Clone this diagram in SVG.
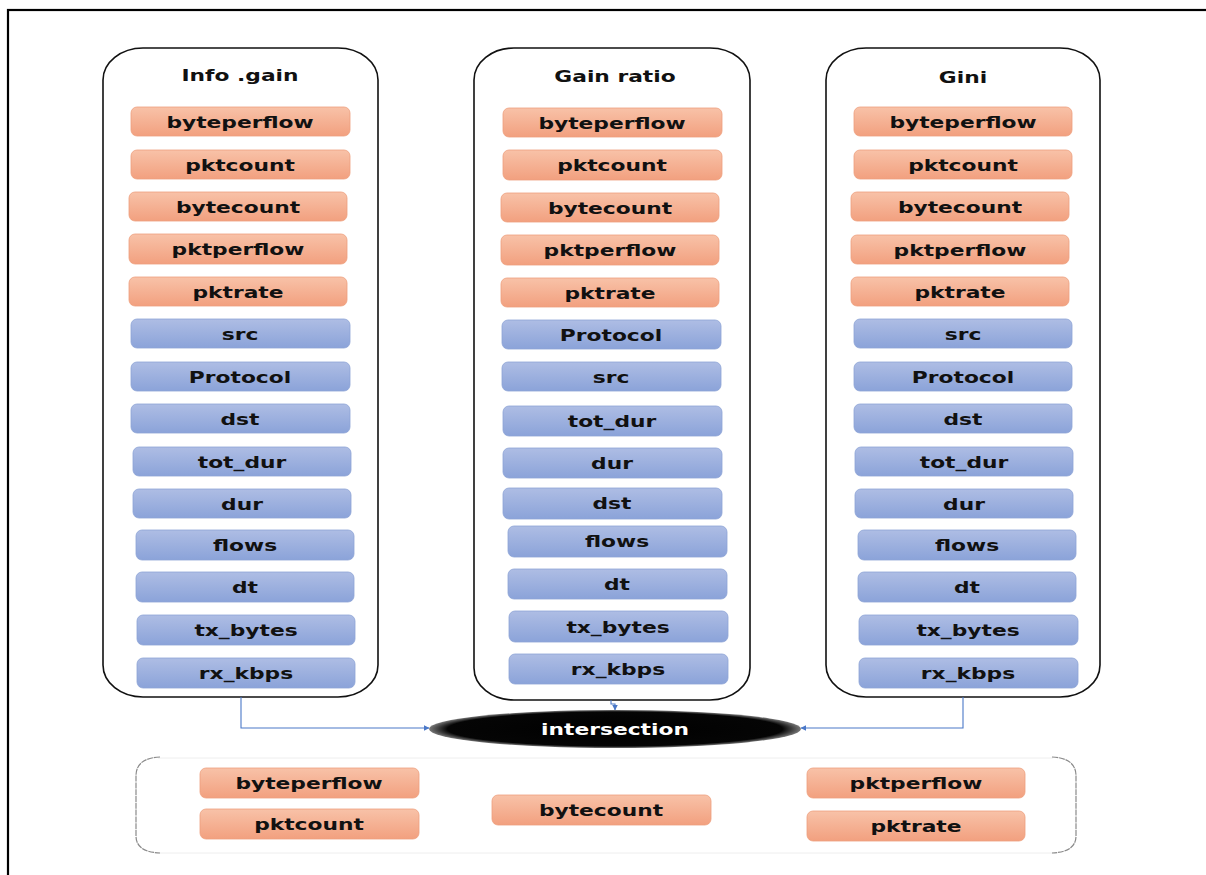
<svg xmlns="http://www.w3.org/2000/svg" width="1206" height="875" viewBox="0 0 1206 875">
<style>
.col{fill:#fff;stroke:#111;stroke-width:1.6}
.o{fill:url(#og);stroke:#eea07e;stroke-width:0.8}
.b{fill:url(#bg);stroke:#8da3d6;stroke-width:0.8}
.t{font-family:"DejaVu Sans",Verdana,sans-serif;font-weight:bold;font-size:16.5px;fill:#111;text-anchor:middle}
.w{fill:#fff}
.con{fill:none;stroke:#4a78c8;stroke-width:1.1}
</style>
<defs>
<linearGradient id="og" x1="0" y1="0" x2="0" y2="1"><stop offset="0" stop-color="#f8c2a8"/><stop offset="1" stop-color="#f2a07f"/></linearGradient>
<linearGradient id="bg" x1="0" y1="0" x2="0" y2="1"><stop offset="0" stop-color="#aebde4"/><stop offset="1" stop-color="#8ba3d9"/></linearGradient>
<radialGradient id="eg" cx="0.5" cy="0.5" r="0.5"><stop offset="0" stop-color="#000"/><stop offset="0.9" stop-color="#050505"/><stop offset="1" stop-color="#777"/></radialGradient>
<marker id="ar" viewBox="0 0 6 6" refX="5.5" refY="3" markerWidth="5" markerHeight="5" orient="auto"><path d="M0,0 L6,3 L0,6 z" fill="#4a78c8"/></marker>
</defs>
<rect x="0" y="0" width="1206" height="875" fill="#fff"/>
<rect x="8" y="10" width="1230" height="900" fill="none" stroke="#000" stroke-width="2.2"/>

<g id="col-info-gain">
<rect class="col" x="103" y="48" width="275" height="649" rx="40" ry="32"/>
<text class="t" transform="translate(240,81) scale(1.32,1)">Info .gain</text>
<rect class="o" x="131" y="107" width="219" height="29" rx="6"/><text class="t" transform="translate(240,127.5) scale(1.32,1)">byteperflow</text>
<rect class="o" x="131" y="150" width="219" height="29" rx="6"/><text class="t" transform="translate(240,170.5) scale(1.32,1)">pktcount</text>
<rect class="o" x="129" y="192" width="218" height="29" rx="6"/><text class="t" transform="translate(238,212.5) scale(1.32,1)">bytecount</text>
<rect class="o" x="129" y="234" width="218" height="30" rx="6"/><text class="t" transform="translate(238,255) scale(1.32,1)">pktperflow</text>
<rect class="o" x="129" y="277" width="218" height="29" rx="6"/><text class="t" transform="translate(238,297.5) scale(1.32,1)">pktrate</text>
<rect class="b" x="131" y="319" width="219" height="29" rx="6"/><text class="t" transform="translate(240,339.5) scale(1.32,1)">src</text>
<rect class="b" x="131" y="362" width="219" height="29" rx="6"/><text class="t" transform="translate(240,382.5) scale(1.32,1)">Protocol</text>
<rect class="b" x="131" y="404" width="219" height="29" rx="6"/><text class="t" transform="translate(240,424.5) scale(1.32,1)">dst</text>
<rect class="b" x="133" y="447" width="218" height="29" rx="6"/><text class="t" transform="translate(242,467.5) scale(1.32,1)">tot_dur</text>
<rect class="b" x="133" y="489" width="218" height="29" rx="6"/><text class="t" transform="translate(242,509.5) scale(1.32,1)">dur</text>
<rect class="b" x="136" y="530" width="218" height="30" rx="6"/><text class="t" transform="translate(245,551) scale(1.32,1)">flows</text>
<rect class="b" x="136" y="572" width="218" height="30" rx="6"/><text class="t" transform="translate(245,593) scale(1.32,1)">dt</text>
<rect class="b" x="137" y="615" width="218" height="30" rx="6"/><text class="t" transform="translate(246,636) scale(1.32,1)">tx_bytes</text>
<rect class="b" x="137" y="658" width="218" height="30" rx="6"/><text class="t" transform="translate(246,679) scale(1.32,1)">rx_kbps</text>
</g>

<g id="col-gain-ratio">
<rect class="col" x="474" y="48" width="276" height="652" rx="40" ry="32"/>
<text class="t" transform="translate(615,82) scale(1.32,1)">Gain ratio</text>
<rect class="o" x="503" y="108" width="219" height="29" rx="6"/><text class="t" transform="translate(612,128.5) scale(1.32,1)">byteperflow</text>
<rect class="o" x="503" y="150" width="219" height="30" rx="6"/><text class="t" transform="translate(612,171) scale(1.32,1)">pktcount</text>
<rect class="o" x="501" y="193" width="218" height="29" rx="6"/><text class="t" transform="translate(610,213.5) scale(1.32,1)">bytecount</text>
<rect class="o" x="501" y="235" width="218" height="30" rx="6"/><text class="t" transform="translate(610,256) scale(1.32,1)">pktperflow</text>
<rect class="o" x="501" y="278" width="218" height="29" rx="6"/><text class="t" transform="translate(610,298.5) scale(1.32,1)">pktrate</text>
<rect class="b" x="502" y="320" width="219" height="29" rx="6"/><text class="t" transform="translate(611,340.5) scale(1.32,1)">Protocol</text>
<rect class="b" x="502" y="362" width="219" height="29" rx="6"/><text class="t" transform="translate(611,382.5) scale(1.32,1)">src</text>
<rect class="b" x="503" y="406" width="219" height="30" rx="6"/><text class="t" transform="translate(612,427) scale(1.32,1)">tot_dur</text>
<rect class="b" x="503" y="448" width="219" height="30" rx="6"/><text class="t" transform="translate(612,469) scale(1.32,1)">dur</text>
<rect class="b" x="503" y="488" width="219" height="31" rx="6"/><text class="t" transform="translate(612,509) scale(1.32,1)">dst</text>
<rect class="b" x="508" y="526" width="219" height="31" rx="6"/><text class="t" transform="translate(617,547) scale(1.32,1)">flows</text>
<rect class="b" x="508" y="569" width="219" height="30" rx="6"/><text class="t" transform="translate(617,590) scale(1.32,1)">dt</text>
<rect class="b" x="509" y="611" width="219" height="31" rx="6"/><text class="t" transform="translate(618,632.5) scale(1.32,1)">tx_bytes</text>
<rect class="b" x="509" y="654" width="219" height="30" rx="6"/><text class="t" transform="translate(618,675) scale(1.32,1)">rx_kbps</text>
</g>

<g id="col-gini">
<rect class="col" x="826" y="48" width="274" height="649" rx="40" ry="32"/>
<text class="t" transform="translate(963,83) scale(1.32,1)">Gini</text>
<rect class="o" x="854" y="107" width="218" height="29" rx="6"/><text class="t" transform="translate(963,127.5) scale(1.32,1)">byteperflow</text>
<rect class="o" x="854" y="150" width="218" height="29" rx="6"/><text class="t" transform="translate(963,170.5) scale(1.32,1)">pktcount</text>
<rect class="o" x="851" y="192" width="218" height="29" rx="6"/><text class="t" transform="translate(960,212.5) scale(1.32,1)">bytecount</text>
<rect class="o" x="851" y="235" width="218" height="29" rx="6"/><text class="t" transform="translate(960,255.5) scale(1.32,1)">pktperflow</text>
<rect class="o" x="851" y="277" width="218" height="29" rx="6"/><text class="t" transform="translate(960,297.5) scale(1.32,1)">pktrate</text>
<rect class="b" x="854" y="319" width="218" height="29" rx="6"/><text class="t" transform="translate(963,339.5) scale(1.32,1)">src</text>
<rect class="b" x="854" y="362" width="218" height="29" rx="6"/><text class="t" transform="translate(963,382.5) scale(1.32,1)">Protocol</text>
<rect class="b" x="854" y="404" width="218" height="29" rx="6"/><text class="t" transform="translate(963,424.5) scale(1.32,1)">dst</text>
<rect class="b" x="855" y="447" width="218" height="29" rx="6"/><text class="t" transform="translate(964,467.5) scale(1.32,1)">tot_dur</text>
<rect class="b" x="855" y="489" width="218" height="29" rx="6"/><text class="t" transform="translate(964,509.5) scale(1.32,1)">dur</text>
<rect class="b" x="858" y="530" width="218" height="30" rx="6"/><text class="t" transform="translate(967,551) scale(1.32,1)">flows</text>
<rect class="b" x="858" y="572" width="218" height="30" rx="6"/><text class="t" transform="translate(967,593) scale(1.32,1)">dt</text>
<rect class="b" x="859" y="615" width="219" height="30" rx="6"/><text class="t" transform="translate(968,636) scale(1.32,1)">tx_bytes</text>
<rect class="b" x="859" y="658" width="219" height="30" rx="6"/><text class="t" transform="translate(968,679) scale(1.32,1)">rx_kbps</text>
</g>

<g id="connectors">
<path class="con" d="M241,697 L241,728 L429,728" marker-end="url(#ar)"/>
<path class="con" d="M963,697 L963,728 L801,728" marker-end="url(#ar)"/>
<path class="con" d="M611,700 L611,704 L615,704 L615,710" marker-end="url(#ar)"/>
</g>

<g id="intersection">
<ellipse cx="615" cy="729" rx="186" ry="19" fill="url(#eg)"/>
<text class="t w" transform="translate(615,735) scale(1.32,1)">intersection</text>
</g>

<g id="result">
<path d="M158,758 L1053,758 M158,853 L1053,853" fill="none" stroke="#eeeeee" stroke-width="1"/>
<path d="M160,757 Q136,758 136,776 L136,836 Q136,852 160,853" fill="none" stroke="#8a8a8a" stroke-width="1.2" stroke-dasharray="6 0.8"/>
<path d="M1052,757 Q1076,758 1076,776 L1076,836 Q1076,852 1052,853" fill="none" stroke="#8a8a8a" stroke-width="1.2" stroke-dasharray="6 0.8"/>
<rect class="o" x="200" y="768" width="219" height="30" rx="6"/><text class="t" transform="translate(309,789) scale(1.32,1)">byteperflow</text>
<rect class="o" x="200" y="809" width="219" height="30" rx="6"/><text class="t" transform="translate(309,830) scale(1.32,1)">pktcount</text>
<rect class="o" x="492" y="795" width="219" height="30" rx="6"/><text class="t" transform="translate(601,816) scale(1.32,1)">bytecount</text>
<rect class="o" x="807" y="768" width="218" height="30" rx="6"/><text class="t" transform="translate(916,789) scale(1.32,1)">pktperflow</text>
<rect class="o" x="807" y="811" width="218" height="30" rx="6"/><text class="t" transform="translate(916,832) scale(1.32,1)">pktrate</text>
</g>
</svg>
